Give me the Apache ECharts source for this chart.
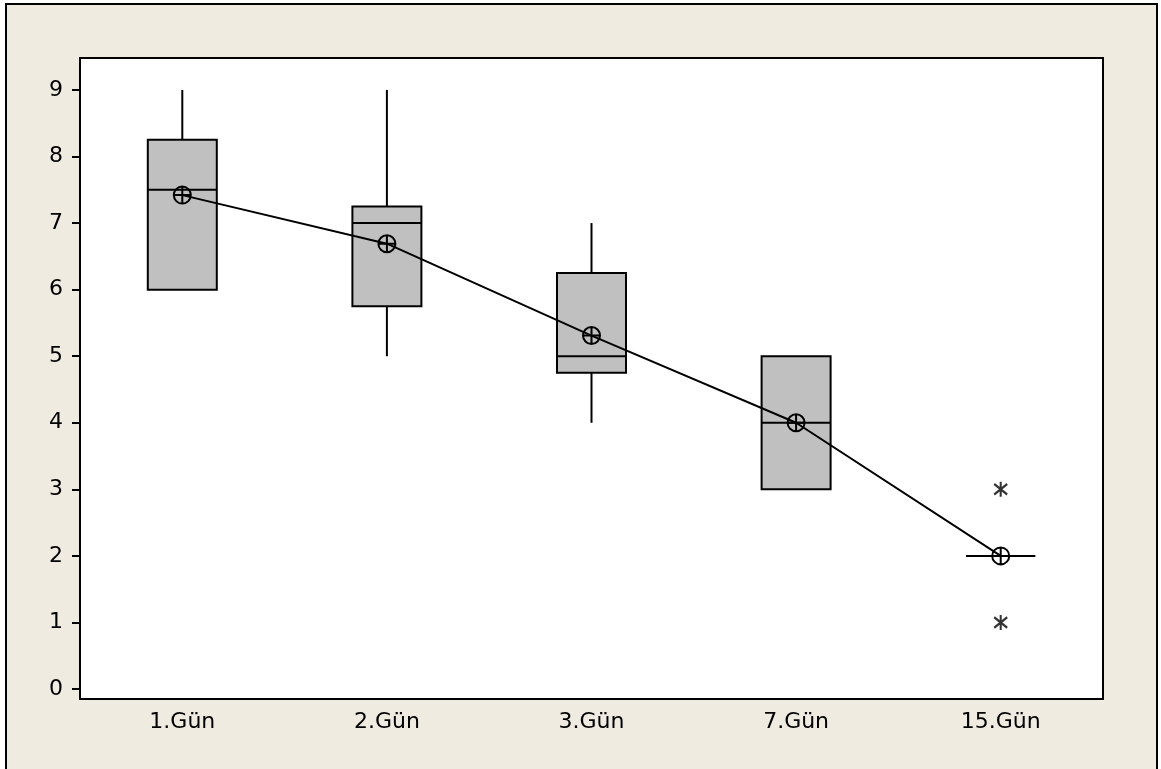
<!DOCTYPE html>
<html>
<head>
<meta charset="utf-8">
<script src="https://cdn.jsdelivr.net/npm/echarts@6/dist/echarts.min.js"></script>
<style>
html,body{margin:0;padding:0;background:#fff;overflow:hidden;}
#wrap{position:relative;width:1161px;height:769px;}
#frame{position:absolute;left:5px;top:3px;width:1149px;height:800px;border:2px solid #000;background:#EFEBE1;}
#chart{position:absolute;left:0;top:0;width:1161px;height:769px;}
</style>
</head>
<body>
<div id="wrap"><div id="frame"></div><div id="chart"></div></div>
<script>
const categories = ['1.Gün', '2.Gün', '3.Gün', '7.Gün', '15.Gün'];
const boxMin    = [6,    5,    4,    3, 2];
const boxQ1     = [6,    5.75, 4.75, 3, 2];
const boxMedian = [7.5,  7,    5,    4, 2];
const boxQ3     = [8.25, 7.25, 6.25, 5, 2];
const boxMax    = [9,    9,    7,    5, 2];
const means     = [7.42, 6.69, 5.31, 4.0, 2.0];
const outlierCats   = ['15.Gün', '15.Gün'];
const outlierValues = [3, 1];
const yTicks = [0, 1, 2, 3, 4, 5, 6, 7, 8, 9];

const boxData = categories.map((c, i) => [i, boxMin[i], boxQ1[i], boxMedian[i], boxQ3[i], boxMax[i]]);
const outlierData = outlierCats.map((c, i) => [c, outlierValues[i]]);

const circlePlus = 'path://M0,-10 A10,10 0 1,1 0,10 A10,10 0 1,1 0,-10 Z M-10,0 L10,0 M0,-10 L0,10';
const asterisk = 'path://M0,-10 L0,10 M-8,-7 L8,7 M-8,7 L8,-7';

const BOX_W = 69;
const LW = 2;

function renderBox(params, api) {
  const x = api.value(0);
  const pMin = api.coord([x, api.value(1)]);
  const pQ1 = api.coord([x, api.value(2)]);
  const pMed = api.coord([x, api.value(3)]);
  const pQ3 = api.coord([x, api.value(4)]);
  const pMax = api.coord([x, api.value(5)]);
  const cx = pMed[0];
  const half = BOX_W / 2;
  const lineStyle = {stroke: '#000', lineWidth: LW, fill: null};
  return {
    type: 'group',
    children: [
      {type: 'line', shape: {x1: cx, y1: pMax[1], x2: cx, y2: pQ3[1]}, style: lineStyle},
      {type: 'line', shape: {x1: cx, y1: pQ1[1], x2: cx, y2: pMin[1]}, style: lineStyle},
      {type: 'rect', shape: {x: cx - half, y: pQ3[1], width: BOX_W, height: pQ1[1] - pQ3[1]},
        style: {fill: '#C0C0C0', stroke: '#000', lineWidth: LW}},
      {type: 'line', shape: {x1: cx - half, y1: pMed[1], x2: cx + half, y2: pMed[1]}, style: lineStyle}
    ]
  };
}

const chart = echarts.init(document.getElementById('chart'), null, {renderer: 'canvas'});
const font = 'DejaVu Sans';
chart.setOption({
  backgroundColor: 'transparent',
  animation: false,
  grid: {
    left: 80, right: 58, top: 58, bottom: 70,
    show: true, backgroundColor: '#fff', borderColor: '#000', borderWidth: 2
  },
  xAxis: {
    type: 'category',
    data: categories,
    boundaryGap: true,
    axisLine: {onZero: false, lineStyle: {color: '#000', width: 2}},
    axisTick: {alignWithLabel: true, length: 7, lineStyle: {color: '#000', width: 2}},
    axisLabel: {color: '#000', fontFamily: font, fontSize: 22, margin: 12},
    splitLine: {show: false}
  },
  yAxis: {
    type: 'value',
    min: -0.15, max: 9.48,
    axisLine: {show: true, onZero: false, lineStyle: {color: '#000', width: 2}},
    axisTick: {show: true, length: 8, customValues: yTicks, lineStyle: {color: '#000', width: 2}},
    axisLabel: {color: '#000', fontFamily: font, fontSize: 22, margin: 17, customValues: yTicks},
    splitLine: {show: false}
  },
  series: [
    {
      type: 'custom',
      data: boxData,
      renderItem: renderBox,
      encode: {x: 0, y: [1, 2, 3, 4, 5]},
      z: 2
    },
    {
      type: 'line',
      data: means,
      symbol: circlePlus,
      symbolSize: [17, 17],
      showAllSymbol: true,
      lineStyle: {color: '#000', width: 2},
      itemStyle: {color: 'none', borderColor: '#000', borderWidth: 2},
      z: 5
    },
    {
      type: 'scatter',
      data: outlierData,
      symbol: asterisk,
      symbolSize: [13, 15],
      itemStyle: {color: 'none', borderColor: '#000', borderWidth: 2.2},
      z: 5
    }
  ]
});
</script>
</body>
</html>
